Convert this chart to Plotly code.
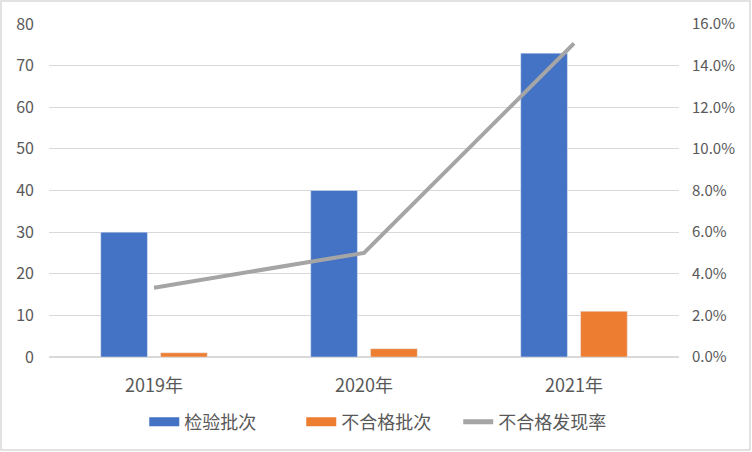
import plotly.graph_objects as go

YEARS = ["2019年", "2020年", "2021年"]
INSPECTED = [30, 40, 73]
FAILED = [1, 2, 11]
FAIL_RATE = [0.0333, 0.05, 0.1507]

BLUE = "#4472C4"
ORANGE = "#ED7D31"
GRAY = "#A5A5A5"
GRID = "#D9D9D9"
TEXT = "#595959"
FONT = "Noto Sans CJK SC, Microsoft YaHei, sans-serif"

W, H = 752, 452
L, R, T, B = 49, 73, 24, 95
PW, PH = W - L - R, H - T - B

fig = go.Figure()
fig.add_bar(name="检验批次", x=YEARS, y=INSPECTED, marker_color=BLUE, showlegend=False)
fig.add_bar(name="不合格批次", x=YEARS, y=FAILED, marker_color=ORANGE, showlegend=False)
fig.add_scatter(
    name="不合格发现率", x=YEARS, y=FAIL_RATE, yaxis="y2", mode="lines",
    line=dict(color=GRAY, width=4), showlegend=False,
)

# legend-only entries so the swatches come out as wide bars like the original
for name, color, width in [("检验批次", BLUE, 9), ("不合格批次", ORANGE, 9), ("不合格发现率", GRAY, 5)]:
    fig.add_scatter(name=name, x=[None], y=[None], mode="lines", line=dict(color=color, width=width))

fig.update_layout(
    width=W, height=H,
    paper_bgcolor="white", plot_bgcolor="white",
    font=dict(family=FONT, color=TEXT, size=16),
    margin=dict(l=L, r=R, t=T, b=B, pad=0),
    barmode="group", bargap=0.43, bargroupgap=0.22,
    legend=dict(orientation="h", x=0.525, xanchor="center", y=-0.195, yanchor="middle",
                font=dict(size=18, color=TEXT), traceorder="normal",
                entrywidth=112, entrywidthmode="pixels"),
    xaxis=dict(showline=True, linecolor=GRID, linewidth=1, ticks="", ticklabelstandoff=12,
               tickfont=dict(size=18)),
    yaxis=dict(range=[0, 80], dtick=10, gridcolor=GRID, zeroline=True, zerolinecolor=GRID,
               ticks="", ticklabelstandoff=14, tickfont=dict(size=16)),
    yaxis2=dict(range=[0, 0.16], dtick=0.02, tickformat=".1%", overlaying="y", side="right",
                showgrid=False, zeroline=False, ticks="", ticklabelstandoff=12, tickfont=dict(size=15)),
    shapes=[dict(
        type="rect", xref="paper", yref="paper",
        x0=(1 - L) / PW, x1=(W - 2 - L) / PW,
        y0=(H - B - (H - 2)) / PH, y1=(H - B - 1) / PH,
        line=dict(color=GRID, width=1.5), layer="below",
    )],
)

fig.write_html(
    "out.html", config={"displayModeBar": False},
    post_script="document.body.style.margin='0';document.body.style.overflow='hidden';",
)
